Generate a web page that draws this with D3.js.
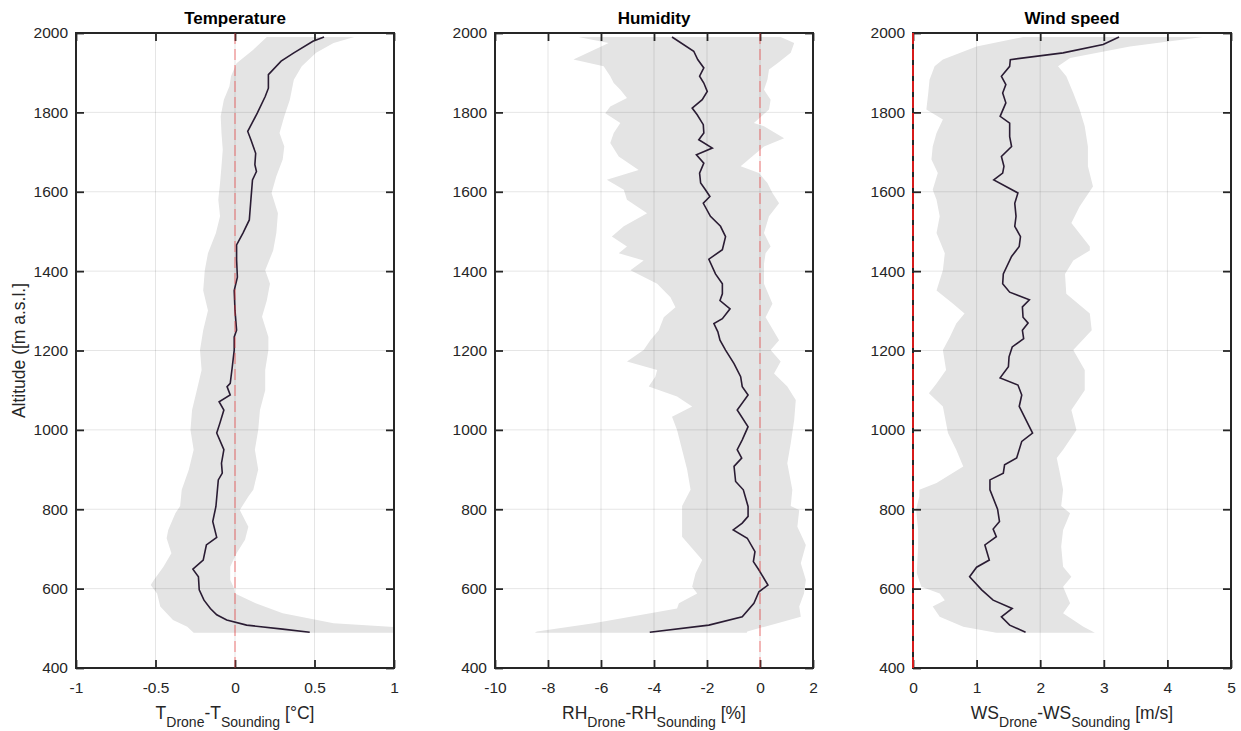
<!DOCTYPE html>
<html>
<head>
<meta charset="utf-8">
<script src="https://cdn.jsdelivr.net/npm/d3@7"></script>
<style>
  body { margin: 0; background: #fff; }
  text { font-family: "Liberation Sans", Arial, Helvetica, sans-serif; fill: #262626; }
</style>
</head>
<body>
<script>
// altitude ticks shared by every panel
var altTicks = [400, 600, 800, 1000, 1200, 1400, 1600, 1800, 2000];

// x ticks per panel
var tempTicks = [-1, -0.5, 0, 0.5, 1];
var rhTicks = [-10, -8, -6, -4, -2, 0, 2];
var wsTicks = [0, 1, 2, 3, 4, 5];

// mean difference profiles [altitude, value]
var tempMean = [[1990,0.56],[1979,0.49],[1950,0.37],[1929,0.29],[1895,0.21],[1861,0.21],[1840,0.19],[1798,0.14],[1752,0.08],[1731,0.10],[1697,0.13],[1668,0.125],[1651,0.135],[1630,0.11],[1580,0.10],[1529,0.09],[1496,0.05],[1466,0.01],[1429,0.01],[1385,0.015],[1351,-0.005],[1301,0.0],[1251,0.01],[1234,-0.005],[1201,-0.005],[1159,-0.017],[1117,-0.03],[1109,-0.05],[1088,-0.03],[1071,-0.10],[1050,-0.07],[1017,-0.095],[992,-0.115],[950,-0.07],[916,-0.085],[891,-0.08],[874,-0.105],[807,-0.12],[769,-0.14],[729,-0.115],[710,-0.18],[672,-0.2],[649,-0.265],[630,-0.23],[597,-0.225],[571,-0.195],[550,-0.155],[534,-0.115],[521,-0.052],[508,0.073],[498,0.30],[490,0.47]];
var rhMean = [[1990,-3.32],[1954,-2.5],[1933,-2.35],[1912,-2.12],[1891,-2.28],[1874,-2.12],[1853,-1.99],[1832,-2.18],[1811,-2.56],[1794,-2.37],[1769,-2.14],[1748,-2.12],[1731,-2.31],[1710,-1.80],[1693,-2.40],[1672,-2.12],[1647,-2.28],[1622,-2.24],[1605,-2.06],[1588,-1.89],[1571,-2.14],[1538,-1.87],[1513,-1.49],[1487,-1.30],[1454,-1.42],[1430,-1.93],[1393,-1.68],[1368,-1.42],[1343,-1.42],[1326,-1.51],[1305,-1.13],[1280,-1.42],[1268,-1.74],[1247,-1.59],[1226,-1.51],[1201,-1.30],[1167,-0.98],[1134,-0.73],[1109,-0.67],[1088,-0.45],[1050,-0.86],[1008,-0.45],[975,-0.67],[950,-0.86],[929,-0.69],[908,-0.98],[870,-0.92],[849,-0.63],[807,-0.45],[782,-0.45],[765,-0.67],[748,-1.01],[727,-0.48],[693,-0.19],[668,-0.25],[647,-0.04],[609,0.30],[592,-0.04],[563,-0.23],[529,-0.67],[508,-1.93],[490,-4.16]];
var wsMean = [[1990,3.24],[1971,2.99],[1950,2.36],[1933,1.53],[1916,1.52],[1891,1.39],[1870,1.46],[1849,1.41],[1824,1.46],[1790,1.37],[1773,1.52],[1739,1.52],[1714,1.55],[1689,1.39],[1664,1.43],[1647,1.41],[1630,1.27],[1597,1.65],[1571,1.60],[1538,1.62],[1513,1.60],[1487,1.69],[1462,1.67],[1437,1.55],[1393,1.42],[1368,1.41],[1347,1.52],[1328,1.83],[1310,1.72],[1284,1.73],[1269,1.81],[1251,1.72],[1230,1.74],[1209,1.56],[1184,1.51],[1159,1.50],[1131,1.37],[1113,1.65],[1088,1.71],[1059,1.67],[992,1.88],[971,1.71],[929,1.63],[912,1.44],[891,1.42],[874,1.21],[849,1.21],[800,1.33],[769,1.36],[750,1.26],[731,1.31],[710,1.13],[672,1.20],[654,1.00],[630,0.89],[597,1.08],[571,1.26],[550,1.56],[529,1.39],[508,1.52],[490,1.77]];

// spread envelope: lower and upper edges [altitude, value]
var tempLow = [[1990,0.20],[1958,0.115],[1924,0.01],[1891,-0.025],[1866,-0.035],[1832,-0.07],[1790,-0.09],[1748,-0.085],[1706,-0.077],[1664,-0.085],[1622,-0.094],[1580,-0.105],[1538,-0.094],[1496,-0.12],[1445,-0.17],[1402,-0.19],[1351,-0.2],[1301,-0.17],[1251,-0.2],[1201,-0.22],[1151,-0.21],[1100,-0.24],[1050,-0.27],[1000,-0.28],[950,-0.26],[900,-0.29],[849,-0.335],[808,-0.345],[790,-0.375],[748,-0.42],[727,-0.43],[689,-0.4],[655,-0.45],[622,-0.51],[609,-0.53],[588,-0.49],[555,-0.47],[521,-0.39],[504,-0.30],[489,-0.26]];
var tempHigh = [[1990,0.75],[1975,0.62],[1950,0.51],[1916,0.42],[1882,0.37],[1832,0.345],[1790,0.31],[1748,0.28],[1714,0.31],[1681,0.30],[1639,0.26],[1597,0.23],[1546,0.27],[1496,0.26],[1452,0.24],[1402,0.19],[1368,0.22],[1326,0.2],[1285,0.17],[1234,0.21],[1201,0.21],[1151,0.19],[1100,0.19],[1050,0.157],[1000,0.146],[950,0.125],[900,0.146],[849,0.115],[832,0.084],[798,0.03],[756,0.084],[723,0.063],[689,0.01],[655,-0.03],[622,-0.03],[605,-0.01],[588,0.0],[563,0.13],[538,0.30],[513,0.62],[502,1.05],[489,1.05]];
var rhLow = [[1990,-6.85],[1975,-5.71],[1933,-7.04],[1916,-5.90],[1891,-5.65],[1874,-5.52],[1857,-5.27],[1836,-5.02],[1815,-5.65],[1798,-5.84],[1773,-5.27],[1748,-5.52],[1723,-5.65],[1689,-5.33],[1655,-4.58],[1630,-5.78],[1605,-5.14],[1580,-5.02],[1546,-4.26],[1513,-5.14],[1487,-5.59],[1462,-5.02],[1445,-5.33],[1427,-4.39],[1402,-4.89],[1368,-3.88],[1334,-3.38],[1309,-3.19],[1284,-3.63],[1251,-3.82],[1226,-4.14],[1201,-4.39],[1172,-5.02],[1151,-3.88],[1134,-3.95],[1109,-4.20],[1084,-3.13],[1059,-2.56],[1033,-3.32],[1000,-3.13],[950,-2.94],[900,-2.75],[849,-2.62],[808,-2.94],[773,-2.94],[731,-2.94],[706,-2.62],[672,-2.18],[639,-2.43],[605,-2.56],[588,-2.37],[563,-3.06],[550,-3.13],[538,-4.14],[513,-6.28],[492,-8.42],[489,-8.5]];
var rhHigh = [[1990,0.78],[1975,1.29],[1950,1.16],[1924,0.66],[1908,0.34],[1882,0.28],[1857,0.15],[1832,0.40],[1807,0.34],[1773,-0.23],[1765,0.15],[1735,0.91],[1714,0.15],[1664,-0.73],[1647,-0.04],[1622,0.28],[1597,0.47],[1571,0.72],[1538,0.34],[1496,0.15],[1462,0.40],[1445,0.21],[1418,0.15],[1368,0.15],[1318,0.47],[1284,0.21],[1226,0.72],[1201,0.40],[1172,0.78],[1142,0.53],[1109,1.03],[1075,1.35],[1025,1.29],[966,1.16],[916,1.03],[849,1.22],[808,1.16],[798,1.48],[756,1.41],[710,1.73],[664,1.54],[622,1.73],[588,1.66],[555,1.48],[529,1.54],[513,0.66],[492,-0.48],[489,-0.5]];
var wsLow = [[1990,1.73],[1966,1.0],[1933,0.47],[1916,0.34],[1882,0.26],[1849,0.24],[1807,0.21],[1782,0.47],[1748,0.37],[1714,0.31],[1681,0.29],[1647,0.39],[1605,0.31],[1580,0.37],[1538,0.42],[1496,0.37],[1445,0.50],[1402,0.47],[1351,0.37],[1318,0.63],[1293,0.81],[1268,0.68],[1234,0.58],[1201,0.47],[1151,0.52],[1117,0.37],[1092,0.25],[1059,0.47],[992,0.55],[950,0.68],[908,0.79],[866,0.37],[849,0.10],[833,0.10],[800,0.05],[748,0.08],[706,0.08],[639,0.06],[605,0.13],[588,0.42],[571,0.50],[555,0.31],[529,0.42],[504,0.79],[489,1.31]];
var wsHigh = [[1990,4.56],[1966,3.41],[1937,2.47],[1916,2.28],[1891,2.41],[1849,2.52],[1807,2.62],[1765,2.70],[1714,2.75],[1664,2.75],[1613,2.83],[1563,2.62],[1521,2.49],[1462,2.78],[1452,2.78],[1427,2.52],[1393,2.39],[1343,2.41],[1293,2.78],[1251,2.81],[1201,2.52],[1151,2.70],[1100,2.70],[1050,2.49],[1000,2.57],[950,2.36],[929,2.26],[891,2.31],[849,2.36],[808,2.33],[790,2.47],[748,2.36],[706,2.33],[655,2.36],[630,2.49],[605,2.36],[563,2.47],[538,2.36],[504,2.68],[489,2.86]];

var titles = ["Temperature", "Humidity", "Wind speed"];

// layout
var totalWidth = 1241, totalHeight = 731,
	plotTop = 33, plotBottom = 668,
	panelLefts = [76, 495, 913],
	panelWidth = 318;

var panels = [
	{title: titles[0], domain: [-1, 1], ticks: tempTicks, mean: tempMean, low: tempLow, high: tempHigh, q: "T", unit: " [°C]"},
	{title: titles[1], domain: [-10, 2], ticks: rhTicks, mean: rhMean, low: rhLow, high: rhHigh, q: "RH", unit: " [%]"},
	{title: titles[2], domain: [0, 5], ticks: wsTicks, mean: wsMean, low: wsLow, high: wsHigh, q: "WS", unit: " [m/s]"}
];

var svg = d3.select("body").append("svg")
	.attr("width", totalWidth)
	.attr("height", totalHeight);

var h = plotBottom - plotTop;
var yScale = d3.scaleLinear().domain([400, 2000]).range([h, 0]);

panels.forEach(function(p, i) {
	var xScale = d3.scaleLinear().domain(p.domain).range([0, panelWidth]);
	var g = svg.append("g").attr("transform", "translate(" + panelLefts[i] + "," + plotTop + ")");

	var clipId = "clip" + i;
	g.append("clipPath").attr("id", clipId)
		.append("rect").attr("width", panelWidth).attr("height", h);

	var plot = g.append("g").attr("clip-path", "url(#" + clipId + ")");

	// shaded spread: low edge downward, then high edge back up
	var outline = p.low.concat(p.high.slice().reverse());
	var poly = d3.line().x(d => xScale(d[1])).y(d => yScale(d[0]));
	plot.append("path")
		.attr("d", poly(outline) + "Z")
		.style("fill", "#e4e4e4")
		.style("stroke", "none");

	// grid
	plot.selectAll(".vgrid").data(p.ticks).enter().append("line")
		.attr("x1", d => xScale(d)).attr("x2", d => xScale(d))
		.attr("y1", 0).attr("y2", h)
		.style("stroke", "#000").style("stroke-opacity", 0.1).style("stroke-width", 1);
	plot.selectAll(".hgrid").data(altTicks).enter().append("line")
		.attr("x1", 0).attr("x2", panelWidth)
		.attr("y1", d => yScale(d)).attr("y2", d => yScale(d))
		.style("stroke", "#000").style("stroke-opacity", 0.1).style("stroke-width", 1);

	// mean line
	plot.append("path")
		.attr("d", poly(p.mean))
		.style("fill", "none")
		.style("stroke", "#2a1c33")
		.style("stroke-width", 1.6);

	// axes
	g.append("g").attr("transform", "translate(0," + h + ")")
		.call(d3.axisBottom(xScale).tickValues(p.ticks).tickSizeInner(-8).tickSizeOuter(0).tickPadding(14).tickFormat(d => String(d)));
	g.append("g")
		.call(d3.axisTop(xScale).tickValues(p.ticks).tickSizeInner(-8).tickSizeOuter(0).tickFormat(""));
	g.append("g")
		.call(d3.axisLeft(yScale).tickValues(altTicks).tickSizeInner(-8).tickSizeOuter(0).tickPadding(8).tickFormat(d => String(d)));
	g.append("g").attr("transform", "translate(" + panelWidth + ",0)")
		.call(d3.axisRight(yScale).tickValues(altTicks).tickSizeInner(-8).tickSizeOuter(0).tickFormat(""));

	g.selectAll(".domain").remove();
	g.selectAll(".tick line").style("stroke", "#262626").style("stroke-width", 1.8);
	g.selectAll(".tick text").style("font-size", "15.5px").style("fill", "#262626")
		.style("font-family", "'Liberation Sans', Arial, sans-serif");

	g.append("rect")
		.attr("width", panelWidth).attr("height", h)
		.style("fill", "none").style("stroke", "#262626").style("stroke-width", 2);

	// zero reference (full red where it runs along the axis edge)
	var onEdge = xScale(0) === 0;
	g.append("line")
		.attr("x1", xScale(0)).attr("x2", xScale(0))
		.attr("y1", 0).attr("y2", h)
		.style("stroke", onEdge ? "#ff1a1a" : "#f03030")
		.style("stroke-opacity", onEdge ? 0.9 : 0.42)
		.style("stroke-width", onEdge ? 1.8 : 1.5)
		.style("stroke-dasharray", "11,5");

	// title
	g.append("text")
		.attr("x", panelWidth / 2).attr("y", -9)
		.attr("text-anchor", "middle")
		.style("font-size", "17px").style("font-weight", "bold").style("fill", "#000")
		.text(p.title);

	// x label with subscripts
	var lab = g.append("text")
		.attr("x", panelWidth / 2).attr("y", h + 51)
		.attr("text-anchor", "middle")
		.style("font-size", "17.5px");
	lab.append("tspan").text(p.q);
	lab.append("tspan").attr("dy", 8).style("font-size", "14px").text("Drone");
	lab.append("tspan").attr("dy", -8).text("-" + p.q);
	lab.append("tspan").attr("dy", 8).style("font-size", "14px").text("Sounding");
	lab.append("tspan").attr("dy", -8).text(p.unit);
});

svg.append("text")
	.attr("transform", "translate(25," + (plotTop + h / 2) + ") rotate(-90)")
	.attr("text-anchor", "middle")
	.style("font-size", "17.5px")
	.text("Altitude ([m a.s.l.]");
</script>
</body>
</html>
